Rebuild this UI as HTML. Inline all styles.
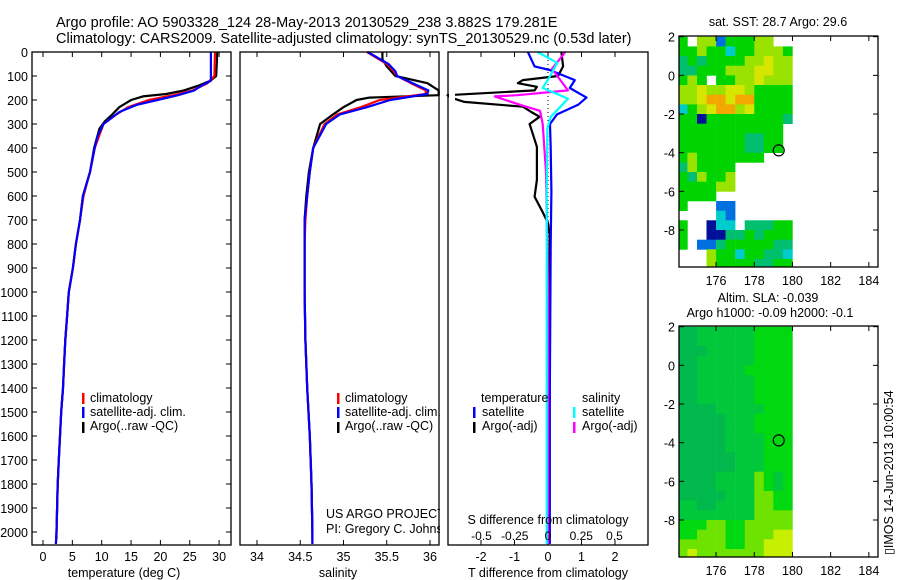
<!DOCTYPE html>
<html><head><meta charset="utf-8"><style>
html,body{margin:0;padding:0;background:#fff;}
svg{display:block;font-family:"Liberation Sans",sans-serif;}
</style></head><body>
<svg id="fig" width="900" height="580" viewBox="0 0 900 580" xmlns="http://www.w3.org/2000/svg">
<text x="56" y="27" font-size="14.5">Argo profile: AO 5903328_124 28-May-2013 20130529_238 3.882S 179.281E</text>
<text x="56" y="43" font-size="14.5">Climatology: CARS2009. Satellite-adjusted climatology: synTS_20130529.nc (0.53d later)</text>
<g id="p1"></g>
<g id="p2"></g>
<g id="p3"></g>
<g id="m1"></g>
<g id="m2"></g>
<text transform="translate(893,555) rotate(-90)" font-size="12.5">▯IMOS 14-Jun-2013 10:00:54</text>
</svg>
<script>
// ---------- data ----------
const depthClim = [0,100,130,160,180,200,230,260,300,400,500,600,700,800,900,1000,1100,1200,1300,1400,1500,1600,1700,1800,1900,2000,2050];
const tempClim  = [29.3,29.2,28,25.5,22.2,18,14.5,12.5,10.3,8.8,8.0,6.9,6.3,5.6,5.1,4.4,4.1,3.8,3.6,3.4,3.1,2.9,2.7,2.5,2.4,2.3,2.2];
const depthSat  = [0,120,140,160,180,200,220,250,300,350,400,500,600,700,800,900,1000,1100,1200,1300,1400,1500,1600,1700,1800,1900,2000,2050];
const tempSat   = [28.6,28.6,27,25.8,23,19.5,16,13,10.3,9.3,8.8,8.0,6.8,6.3,5.6,5.1,4.4,4.1,3.8,3.6,3.4,3.1,2.9,2.7,2.5,2.4,2.3,2.2];
const depthArgo = [0,100,120,140,160,175,185,200,230,260,290,320,400,500,600,700,800,900,1000,1100,1200,1300,1400,1500,1600,1700,1800,1900,2000,2030];
const tempArgo  = [29.7,29.5,28.5,26.5,24,21,17,15,13,11.8,10.5,9.6,8.7,8.0,6.8,6.3,5.6,5.1,4.4,4.1,3.8,3.6,3.4,3.1,2.9,2.7,2.5,2.4,2.3,2.3];
const salDepth  = [0,50,80,100,130,160,175,200,230,260,300,400,500,600,700,800,900,1000,1200,1400,1600,1800,2000,2050];
const salClim   = [35.27,35.5,35.58,35.62,35.78,35.95,35.95,35.42,35.2,34.93,34.78,34.65,34.61,34.58,34.56,34.55,34.55,34.55,34.56,34.58,34.61,34.63,34.64,34.64];
const salSat    = [35.28,35.52,35.6,35.62,35.8,35.98,35.97,35.54,35.27,34.96,34.8,34.65,34.61,34.58,34.55,34.55,34.55,34.55,34.56,34.58,34.61,34.63,34.64,34.64];
const salArgoDepth = [0,30,60,100,130,160,180,190,200,230,260,300,400,500,600,700,800,900,1000,1200,1400,1600,1800,2000,2030];
const salArgo   = [35.45,35.45,35.5,35.6,35.97,36.1,36.1,35.3,35.15,35.0,34.88,34.73,34.65,34.6,34.57,34.55,34.55,34.55,34.55,34.56,34.58,34.61,34.63,34.64,34.64];
const dDepthA   = [0,60,100,117,130,145,160,180,190,208,228,250,270,300,395,533,603,670,713,760,1000,1500,2050];
const dTempArgo = [0.4,0.45,0.3,-0.75,-0.9,-0.33,-0.4,-3.0,-2.9,-2.5,-0.75,-0.5,-0.25,-0.55,-0.33,-0.33,-0.4,-0.15,0.0,0.05,0.05,0.05,0.05];
const dDepthS   = [0,45,60,75,117,150,190,220,260,300,400,580,800,1500,2050];
const dTempSat  = [-0.6,-0.45,-0.4,0.05,0.8,0.65,1.15,0.9,0.27,0.06,0.08,0.1,0.08,0.05,0.05];
const dDepthC   = [0,45,115,150,180,195,230,270,320,600,1000,2050];
const dSalSat   = [-0.08,0.07,0.0,-0.04,0.09,0.15,0.09,0.02,-0.005,-0.01,-0.01,-0.01];
const dDepthM   = [0,70,115,160,180,185,220,245,300,500,1000,2050];
const dSalArgo  = [0.13,0.03,0.09,0.15,-0.23,-0.4,-0.21,-0.06,-0.04,-0.015,0.0,0.0];
const depthTicks = [0,100,200,300,400,500,600,700,800,900,1000,1100,1200,1300,1400,1500,1600,1700,1800,1900,2000];
const tempTicks = [0,5,10,15,20,25,30];
const salTicks = [34,34.5,35,35.5,36];
const dtTicks = [-2,-1,0,1,2];
const dsTicks = [-0.5,-0.25,0,0.25,0.5];
const latTicks = [2,0,-2,-4,-6,-8];
const lonTicks = [176,178,180,182,184];
const sstRows = ["g.yybgggyy..","ggyggcggyyyg","tgtggggyyYyy","ttgggyyyYYyy","gyg.ggyyYyyy","yyYyyYYygggg","yyYooYoogggg","cgyYooyYgggg","ggnggggggggt","ggggggggggg.","gggggggttgg.","gggggggttgg.","gyggggggg...","tygggg......","gtyggy......","ggggyy......","gggg........","g...bb......","....cb......","g..ncc.tttgg","g..nnttgtggg","g.bbtgggggtt","...yggcggttc","...yggggttgg"];
const slaRows = ["ddmmmmmmgggg","ddmmmmmmgggg","dddmmmmmgggg","ddmmmmmmgggg","ddmmmmmggggg","ddmmmmmmgggg","ddmmmmmmgggg","ddmmmmmmgggg","ddddmmmmmggg","dddddmmmgggg","dddddmmmgggg","dddddmmmmggg","dddddmmmmggg","ddddddmmmggg","ddddddmmmggg","ddddmmmmlgmg","ddddmmmmlgmg","dddddmmmllgg","mmddmmmmllgg","mmmmmmmmllll","gggllgglllll","gglllgglllYY","lllllggllYYY","lYlllllllYYY"];
const argoLon = 179.281, argoLat = -3.882;
// ---------- helpers ----------
const NS="http://www.w3.org/2000/svg";
function el(parent,tag,attrs){const e=document.createElementNS(NS,tag);for(const k in attrs)e.setAttribute(k,attrs[k]);parent.appendChild(e);return e;}
const Y=d=>52+0.24*d, tX=t=>43+5.87*t, sX=s=>257+86.5*(s-34), dtX=v=>548+33.5*v, dsX=v=>548+133*v;
const mX=lon=>679+(lon-174.06)*19.1, m1Y=lat=>36.7+(2-lat)*19.33, m2Y=lat=>326.7+(2-lat)*19.33;
function frame(g,x0,y0,x1,y1,name){const r=el(g,'rect',{x:x0,y:y0,width:x1-x0,height:y1-y0,fill:'none',stroke:'#000','stroke-width':1.3});}
function line(g,xs,ds,fx,color,name,w){const pts=xs.map((v,i)=>fx(v).toFixed(1)+','+Y(ds[i]).toFixed(1)).join(' ');const p=el(g,'polyline',{points:pts,fill:'none',stroke:color,'stroke-width':w||2.2,'stroke-linejoin':'round'});}
function txt(g,x,y,s,anchor,name,size){const t=el(g,'text',{x:x,y:y,'font-size':size||12.5,'text-anchor':anchor||'start'});t.textContent=s;return t;}
function tickV(g,x,y0,y1){el(g,'line',{x1:x,x2:x,y1:y0,y2:y1,stroke:'#000','stroke-width':1});}
function tickH(g,y,x0,x1){el(g,'line',{x1:x0,x2:x1,y1:y,y2:y,stroke:'#000','stroke-width':1});}
function legBar(g,x,y,color,name){const r=el(g,'rect',{x:x,y:y-10,width:2.5,height:11,fill:color});}
// ---------- panel 1 ----------
const p1=document.getElementById('p1');
depthTicks.forEach(d=>{tickH(p1,Y(d),32,37);tickH(p1,Y(d),226,231);txt(p1,28,Y(d)+5,String(d),'end','depth-tick-label');});
tempTicks.forEach(t=>{tickV(p1,tX(t),545,540);tickV(p1,tX(t),52,57);txt(p1,tX(t),561,String(t),'middle','temp-tick-label');});
line(p1,tempArgo,depthArgo,tX,'#000','argo-temp-line');
line(p1,tempClim,depthClim,tX,'#f00','climatology-temp-line');
line(p1,tempSat,depthSat,tX,'#00f','satellite-temp-line');
frame(p1,32,52,231,545,'temperature-axes');
txt(p1,124,577,'temperature (deg C)','middle','temperature-axis-title');
legBar(p1,82,403,'#f00','legend-climatology-swatch');txt(p1,90,402,'climatology','start','legend-climatology');
legBar(p1,82,417,'#00f','legend-satellite-swatch');txt(p1,90,416,'satellite-adj. clim.','start','legend-satellite');
legBar(p1,82,432,'#000','legend-argo-swatch');txt(p1,90,430,'Argo(..raw -QC)','start','legend-argo');
// ---------- panel 2 ----------
const p2=document.getElementById('p2');
salTicks.forEach(s=>{tickV(p2,sX(s),545,540);tickV(p2,sX(s),52,57);txt(p2,sX(s),561,String(s),'middle','salinity-tick-label');});
line(p2,salArgo,salArgoDepth,sX,'#000','argo-salinity-line');
line(p2,salClim,salDepth,sX,'#f0000f'.slice(0,4),'climatology-salinity-line');
line(p2,salSat,salDepth,sX,'#00f','satellite-salinity-line');
legBar(p2,337,403,'#f00','legend2-climatology-swatch');txt(p2,345,402,'climatology','start','legend2-climatology');
legBar(p2,337,417,'#00f','legend2-satellite-swatch');txt(p2,345,416,'satellite-adj. clim.','start','legend2-satellite');
legBar(p2,337,432,'#000','legend2-argo-swatch');txt(p2,345,430,'Argo(..raw -QC)','start','legend2-argo');
txt(p2,326,518,'US ARGO PROJECT','start','credit-project');
txt(p2,326,533,'PI: Gregory C. Johnson','start','credit-pi');
el(p2,'rect',{x:440,y:45,width:7.5,height:505,fill:'#fff'});
frame(p2,240,52,439,545,'salinity-axes');
txt(p2,338,577,'salinity','middle','salinity-axis-title');
// ---------- panel 3 ----------
const p3=document.getElementById('p3');
el(p3,'rect',{x:448,y:52,width:200,height:493,fill:'#fff'});
dtTicks.forEach(v=>{tickV(p3,dtX(v),545,540);tickV(p3,dtX(v),52,57);txt(p3,dtX(v),561,String(v),'middle','dt-tick-label');});
for(let y=56;y<545;y+=4)el(p3,'rect',{x:547.5,y:y,width:1,height:1,fill:'#000'});
line(p3,dTempArgo,dDepthA,dtX,'#000','argo-temp-diff-line');
line(p3,dTempSat,dDepthS,dtX,'#00f','satellite-temp-diff-line');
line(p3,dSalArgo,dDepthM,dsX,'#f0f','argo-sal-diff-line');
line(p3,dSalSat,dDepthC,dsX,'#0ff','satellite-sal-diff-line');
el(p3,'rect',{x:449,y:45,width:6,height:505,fill:'#fff'});
frame(p3,448,52,648,545,'difference-axes');
txt(p3,548,577,'T difference from climatology','middle','t-diff-axis-title');
txt(p3,548,524,'S difference from climatology','middle','s-diff-axis-title');
dsTicks.forEach(v=>{txt(p3,dsX(v),540,String(v),'middle','ds-tick-label',12);});
txt(p3,481,402,'temperature','start','legend3-temperature-header');
legBar(p3,473,417,'#00f','legend3-tsat-swatch');txt(p3,482,416,'satellite','start','legend3-tsat');
legBar(p3,473,432,'#000','legend3-targo-swatch');txt(p3,482,430,'Argo(-adj)','start','legend3-targo');
txt(p3,582,402,'salinity','start','legend3-salinity-header');
legBar(p3,573,417,'#0ff','legend3-ssat-swatch');txt(p3,582,416,'satellite','start','legend3-ssat');
legBar(p3,573,432,'#f0f','legend3-sargo-swatch');txt(p3,582,430,'Argo(-adj)','start','legend3-sargo');
// ---------- maps ----------
const sstCol={g:'#00d400',y:'#9ae200',Y:'#d6e600',o:'#f2a800',t:'#00c070',c:'#00cccc',b:'#0070e0',n:'#001098'};
const slaCol={d:'#00b84c',m:'#00c83a',g:'#00d810',l:'#6ee200',Y:'#c6f000'};
function drawMap(g,rows,cols,fy,y0,y1,name){
  const clip=el(g,'clipPath',{id:'clip'+name});el(clip,'rect',{x:679,y:y0,width:199,height:y1-y0});
  const cg=el(g,'g',{'clip-path':'url(#clip'+name+')'});
  rows.forEach((row,r)=>{for(let c=0;c<row.length;c++){const k=row[c];if(!cols[k])continue;
    const lon=174+0.5*c, lat=2-0.5*r;
    const x=mX(lon), y=fy(lat);
    const cell=el(cg,'rect',{x:x.toFixed(1),y:y.toFixed(1),width:9.8,height:10,fill:cols[k]});
    
    }});
  const ci=el(g,'circle',{cx:mX(argoLon),cy:fy(argoLat),r:5.5,fill:'none',stroke:'#000','stroke-width':1.2});
  
  latTicks.forEach(l=>{tickH(g,fy(l),679,684);tickH(g,fy(l),873,878);txt(g,675,fy(l)+5,String(l),'end','lat-tick-label');});
  lonTicks.forEach(l=>{tickV(g,mX(l),y1,y1-5);tickV(g,mX(l),y0,y0+5);txt(g,mX(l),y1+18,String(l),'middle','lon-tick-label');});
  frame(g,679,y0,878,y1,name+'-axes');
}
const m1=document.getElementById('m1'), m2=document.getElementById('m2');
drawMap(m1,sstRows,sstCol,m1Y,36,267,'sst');
drawMap(m2,slaRows,slaCol,m2Y,326,557,'sla');
txt(m1,778,26,'sat. SST: 28.7 Argo: 29.6','middle','sst-map-title');
txt(m2,768,302,'Altim. SLA: -0.039','middle','sla-map-title');
txt(m2,770,317,'Argo h1000: -0.09 h2000: -0.1','middle','sla-map-subtitle');
</script>
</body></html>
